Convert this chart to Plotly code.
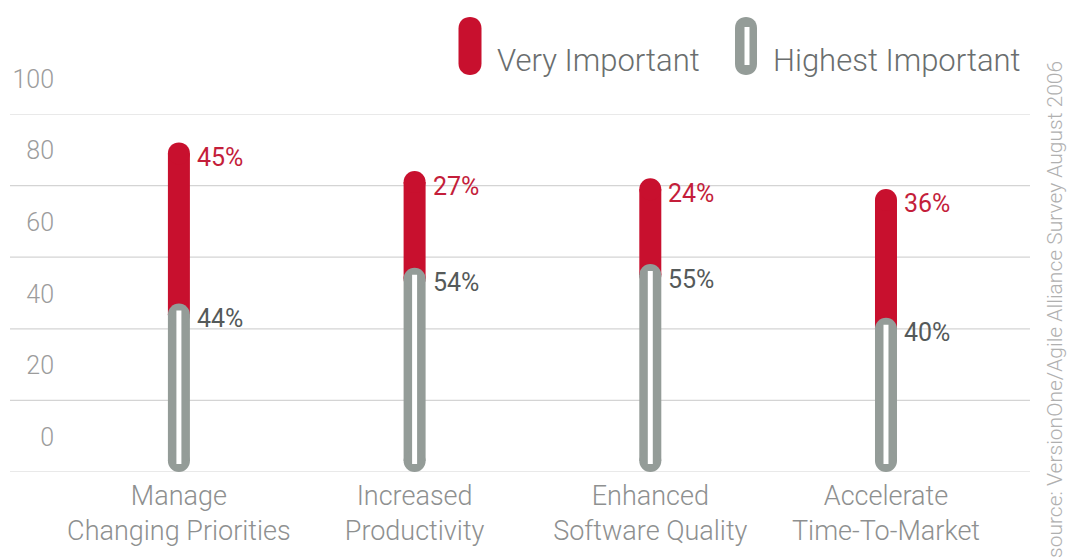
import plotly.graph_objects as go

# ---------------- data ----------------
categories = ["Manage<br>Changing Priorities", "Increased<br>Productivity",
              "Enhanced<br>Software Quality", "Accelerate<br>Time-To-Market"]
highest_important = [44, 54, 55, 40]   # lower (gray) segment
very_important = [45, 27, 24, 36]      # upper (red) segment
y_ticks = [0, 20, 40, 60, 80, 100]
series_names = ["Very Important", "Highest Important"]
source_text = "source: VersionOne/Agile Alliance Survey August 2006"

# ---------------- style ----------------
W, H = 1069, 560
M_L, M_R, M_T, M_B = 58, 39, 114, 88
PLOT_W = W - M_L - M_R
PLOT_H = H - M_T - M_B
Y_RANGE = [0, 100]
X_RANGE = [-0.513, 3.611]
PX_PER_UNIT = PLOT_H / (Y_RANGE[1] - Y_RANGE[0])

RED = "#c8102e"
GRAY = "#949c98"
GRID = "#d4d4d4"
FONT = "Roboto, 'Open Sans', sans-serif"
BAR_W = 22
R_UNITS = (BAR_W / 2) / PX_PER_UNIT


def px2paper_y(py):
    return (H - M_B - py) / PLOT_H


def px2paper_x(px):
    return (px - M_L) / PLOT_W


fig = go.Figure()

rx, ry, gx, gy, wx, wy = [], [], [], [], [], []
for cat, g, v in zip(categories, highest_important, very_important):
    rx += [cat, cat, None]
    ry += [g, g + v, None]
    gx += [cat, cat, None]
    gy += [R_UNITS, g, None]
    wx += [cat, cat, None]
    wy += [R_UNITS - 3 / PX_PER_UNIT, g + 4 / PX_PER_UNIT, None]

fig.add_trace(go.Scatter(x=rx, y=ry, mode="lines+markers", name=series_names[0],
                         line=dict(color=RED, width=BAR_W),
                         marker=dict(color=RED, size=BAR_W, line=dict(width=0)),
                         cliponaxis=False, hoverinfo="skip", showlegend=False))
fig.add_trace(go.Scatter(x=gx, y=gy, mode="lines+markers", name=series_names[1],
                         line=dict(color=GRAY, width=BAR_W),
                         marker=dict(color=GRAY, size=BAR_W, line=dict(width=0)),
                         cliponaxis=False, hoverinfo="skip", showlegend=False))
fig.add_trace(go.Scatter(x=wx, y=wy, mode="lines",
                         line=dict(color="white", width=5),
                         cliponaxis=False, hoverinfo="skip", showlegend=False))

# value labels
annotations = []
for cat, g, v in zip(categories, highest_important, very_important):
    annotations.append(dict(x=cat, y=g + v, xref="x", yref="y", text=f"{v}%",
                            showarrow=False, xanchor="left", yanchor="middle",
                            xshift=16, yshift=-4,
                            font=dict(family=FONT, size=25, color="#c41e3a", weight=400)))
    annotations.append(dict(x=cat, y=g, xref="x", yref="y", text=f"{g}%",
                            showarrow=False, xanchor="left", yanchor="middle",
                            xshift=16, yshift=-4,
                            font=dict(family=FONT, size=25, color="#555a5a", weight=400)))

# legend (custom)
annotations.append(dict(x=px2paper_x(495), y=px2paper_y(60), xref="paper", yref="paper",
                        text=series_names[0], showarrow=False, xanchor="left", yanchor="middle",
                        font=dict(family=FONT, size=31, color="#6a6e6e", weight=300)))
annotations.append(dict(x=px2paper_x(771), y=px2paper_y(60), xref="paper", yref="paper",
                        text=series_names[1], showarrow=False, xanchor="left", yanchor="middle",
                        font=dict(family=FONT, size=31, color="#6a6e6e", weight=300)))
# source
annotations.append(dict(x=px2paper_x(1055), y=px2paper_y(310), xref="paper", yref="paper",
                        text=source_text, showarrow=False, textangle=-90,
                        xanchor="center", yanchor="middle",
                        font=dict(family=FONT, size=21, color="#b0b0b0", weight=300)))

shapes = []
for t in y_ticks:
    shapes.append(dict(type="line", xref="paper", yref="y",
                       x0=px2paper_x(10), x1=1.0, y0=t, y1=t,
                       line=dict(color=GRID, width=1.2), layer="below"))


def pill(w, h):
    r = w / 2
    k = 4 / 3 * r
    s = h / 2 - r
    return (f"M {-r},{-s} L {-r},{s} C {-r},{s + k} {r},{s + k} {r},{s} "
            f"L {r},{-s} C {r},{-s - k} {-r},{-s - k} {-r},{-s} Z")


for cx, color, w in [(470, RED, 23), (746, GRAY, 22)]:
    shapes.append(dict(type="path", xref="paper", yref="paper",
                       xsizemode="pixel", ysizemode="pixel",
                       xanchor=px2paper_x(cx), yanchor=px2paper_y(46),
                       path=pill(w, 58), fillcolor=color, line=dict(width=0)))
shapes.append(dict(type="rect", xref="paper", yref="paper",
                   xsizemode="pixel", ysizemode="pixel",
                   xanchor=px2paper_x(747), yanchor=px2paper_y(46),
                   x0=-2.5, x1=2.5, y0=-19, y1=19, fillcolor="white", line=dict(width=0)))

fig.update_layout(
    template="none",
    width=W, height=H,
    margin=dict(l=M_L, r=M_R, t=M_T, b=M_B, autoexpand=False),
    paper_bgcolor="white", plot_bgcolor="white",
    showlegend=False,
    font=dict(family=FONT),
    xaxis=dict(type="category", range=X_RANGE, showgrid=False, zeroline=False,
               showline=False, ticks="", ticklabelstandoff=5,
               tickfont=dict(family=FONT, size=27, color="#8e9090", weight=300)),
    yaxis=dict(range=Y_RANGE, tickvals=y_ticks, ticktext=[str(t) for t in y_ticks],
               showgrid=False, zeroline=False, showline=False, ticks="",
               ticklabelshift=-35, ticklabelstandoff=3,
               tickfont=dict(family=FONT, size=25, color="#9c9c9c", weight=300)),
    annotations=annotations,
    shapes=shapes,
)

fig.write_html("out.html")
